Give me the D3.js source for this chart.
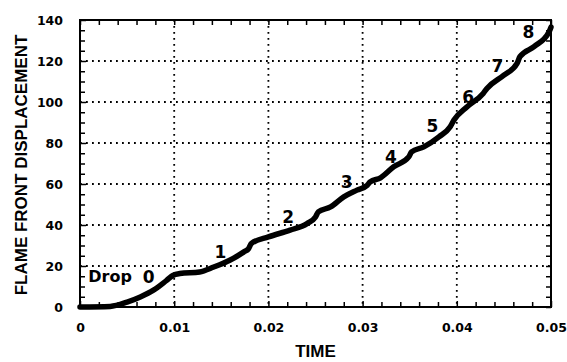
<!DOCTYPE html>
<html>
<head>
<meta charset="utf-8">
<script src="https://cdn.jsdelivr.net/npm/d3@7"></script>
<style>
  body { margin: 0; background: #fff; }
  svg { display: block; }
</style>
</head>
<body>
<div id="chart"></div>
<script>
// flame front displacement vs time
const timeVals = [0, 0.0032, 0.0050, 0.0064, 0.0078, 0.0092, 0.0099, 0.0106, 0.0127,
  0.0142, 0.0159, 0.0174, 0.0179, 0.0182, 0.0200, 0.0223, 0.0241, 0.0250, 0.0253,
  0.0266, 0.0280, 0.0294, 0.0305, 0.0308, 0.0319, 0.0333, 0.0349, 0.0352, 0.0365,
  0.0381, 0.0393, 0.0397, 0.0411, 0.0428, 0.0432, 0.0450, 0.0464, 0.0467, 0.0482,
  0.0498, 0.0500];
const dispVals = [0, 0.3, 2.4, 4.9, 8.2, 13.0, 15.5, 16.3, 17.1,
  19.5, 22.8, 26.9, 28.5, 31.0, 34.2, 37.5, 40.7, 43.9, 46.4,
  48.8, 53.7, 57.0, 59.4, 61.0, 63.0, 68.4, 73.2, 75.7, 78.1,
  83.0, 87.9, 91.2, 97.7, 104.2, 106.6, 113.1, 118.8, 122.1, 127.0,
  134.3, 136.5];

// annotation labels and where they sit (data units)
const labelText = ["Drop", "0", "1", "2", "3", "4", "5", "6", "7", "8"];
const labelTime = [0.0032, 0.0073, 0.0149, 0.0221, 0.0283, 0.0330, 0.0374, 0.0412, 0.0443, 0.0476];
const labelDisp = [12.2, 11.6, 23.8, 40.9, 57.9, 70.2, 85.3, 99.4, 114.6, 131.2];

const xTicks = [0, 0.01, 0.02, 0.03, 0.04, 0.05];
const xTickLabels = ["0", "0.01", "0.02", "0.03", "0.04", "0.05"];
const yTicks = [0, 20, 40, 60, 80, 100, 120, 140];

const width = 567, height = 362;
const margin = { top: 20, right: 16, bottom: 55, left: 80 };
const w = width - margin.left - margin.right;
const h = height - margin.top - margin.bottom;

const svg = d3.select("#chart").append("svg")
  .attr("width", width)
  .attr("height", height);

const g = svg.append("g")
  .attr("transform", "translate(" + margin.left + "," + margin.top + ")");

const x = d3.scaleLinear().domain([0, 0.05]).range([0, w]);
const y = d3.scaleLinear().domain([0, 140]).range([h, 0]);

const xMinor = d3.range(0, 0.0501, 0.002).filter(function (t) {
  return Math.abs(t / 0.01 - Math.round(t / 0.01)) > 1e-6;
});
const yMinor = d3.range(0, 141, 5).filter(function (v) { return v % 20 !== 0; });

// dotted grid
const grid = g.append("g").attr("class", "grid");
grid.selectAll("line.gx")
  .data(xTicks.slice(1, -1))
  .enter().append("line")
  .attr("x1", function (d) { return x(d); })
  .attr("x2", function (d) { return x(d); })
  .attr("y1", 0).attr("y2", h);
grid.selectAll("line.gy")
  .data(yTicks.slice(1, -1))
  .enter().append("line")
  .attr("x1", 0).attr("x2", w)
  .attr("y1", function (d) { return y(d); })
  .attr("y2", function (d) { return y(d); });
grid.selectAll("line")
  .attr("stroke", "#000")
  .attr("stroke-width", 1.8)
  .attr("stroke-dasharray", "1.8,4.2");

// axes: ticks pointing inward on all four sides
function styleAxis(sel) {
  sel.select(".domain").remove();
  sel.selectAll(".tick line").attr("stroke", "#000").attr("stroke-width", 1.5);
  sel.selectAll(".tick text")
    .attr("fill", "#000")
    .style("font-family", "'DejaVu Sans', sans-serif")
    .style("font-weight", "bold")
    .style("font-size", "12.5px");
}

g.append("g")
  .attr("transform", "translate(0," + h + ")")
  .call(d3.axisBottom(x).tickValues(xTicks)
    .tickFormat(function (d, i) { return xTickLabels[i]; })
    .tickSizeInner(-6).tickPadding(16))
  .call(styleAxis);
g.append("g")
  .attr("transform", "translate(0," + h + ")")
  .call(d3.axisBottom(x).tickValues(xMinor).tickFormat("").tickSizeInner(-5))
  .call(styleAxis);

g.append("g")
  .call(d3.axisTop(x).tickValues(xTicks.concat(xMinor)).tickFormat("").tickSizeInner(-5))
  .call(styleAxis);

g.append("g")
  .call(d3.axisLeft(y).tickValues(yTicks).tickSizeInner(-6).tickPadding(17))
  .call(styleAxis);
g.append("g")
  .call(d3.axisLeft(y).tickValues(yMinor).tickFormat("").tickSizeInner(-5))
  .call(styleAxis);

g.append("g")
  .attr("transform", "translate(" + w + ",0)")
  .call(d3.axisRight(y).tickValues(yTicks.concat(yMinor)).tickFormat("").tickSizeInner(-5))
  .call(styleAxis);

// frame
g.append("rect")
  .attr("x", 0).attr("y", 0)
  .attr("width", w).attr("height", h)
  .attr("fill", "none")
  .attr("stroke", "#000")
  .attr("stroke-width", 2);

// the curve
const pts = timeVals.map(function (t, i) { return [t, dispVals[i]]; });
const line = d3.line()
  .x(function (d) { return x(d[0]); })
  .y(function (d) { return y(d[1]); })
  .curve(d3.curveMonotoneX);

g.append("path")
  .datum(pts)
  .attr("d", line)
  .attr("fill", "none")
  .attr("stroke", "#000")
  .attr("stroke-width", 5.5)
  .attr("stroke-linejoin", "round")
  .attr("stroke-linecap", "round");

// drop labels
g.selectAll("text.lbl")
  .data(labelText)
  .enter().append("text")
  .attr("class", "lbl")
  .attr("x", function (d, i) { return x(labelTime[i]); })
  .attr("y", function (d, i) { return y(labelDisp[i]); })
  .attr("text-anchor", "middle")
  .style("font-family", "'DejaVu Sans', sans-serif")
  .style("font-weight", "bold")
  .style("font-size", function (d) { return d === "Drop" ? "16px" : "17px"; })
  .text(function (d) { return d; });

// axis titles
svg.append("text")
  .attr("x", margin.left + x(0.0250))
  .attr("y", 357)
  .attr("text-anchor", "middle")
  .style("font-family", "'Liberation Sans', Arial, sans-serif")
  .style("font-weight", "bold")
  .style("font-size", "17px")
  .text("TIME");

svg.append("text")
  .attr("transform", "translate(27,165) rotate(-90)")
  .attr("text-anchor", "middle")
  .style("font-family", "'Liberation Sans', Arial, sans-serif")
  .style("font-weight", "bold")
  .style("font-size", "17px")
  .text("FLAME FRONT DISPLACEMENT");
</script>
</body>
</html>
